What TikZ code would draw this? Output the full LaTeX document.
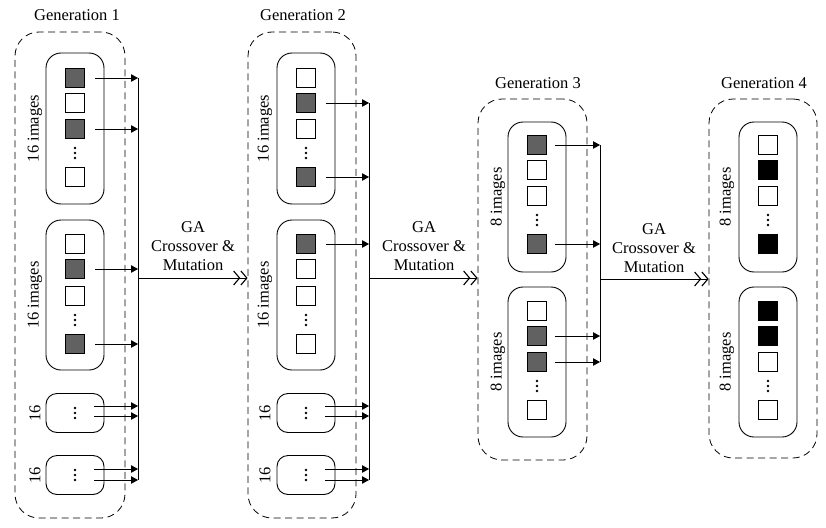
\documentclass[tikz,border=0pt]{standalone}
\usepackage{fontspec}
\setmainfont{Liberation Serif}
\usetikzlibrary{arrows.meta}
\definecolor{sqgray}{gray}{0.38}
\tikzset{
  gen/.style={draw,dash pattern=on 7pt off 4.5pt,rounded corners=24pt,line width=0.8pt,inner sep=0},
  grp/.style={draw,rounded corners=15pt,line width=0.9pt,minimum width=58pt,inner sep=0},
  smallgrp/.style={draw,rounded corners=11pt,line width=0.9pt,minimum width=58pt,minimum height=39pt,inner sep=0},
  sqw/.style={draw,line width=0.8pt,minimum size=19pt,inner sep=0,fill=white},
  sqg/.style={sqw,fill=sqgray},
  sqb/.style={sqw,fill=black},
  lbl/.style={font=\fontsize{16.5}{19}\selectfont},
  rlbl/.style={lbl,rotate=90},
  vd/.style={minimum width=4pt,minimum height=15pt,inner sep=0,
    path picture={\foreach \d in {-5,0,5}
      \fill ([yshift=\d pt]path picture bounding box.center) circle[radius=1.35pt];}},
  arr/.style={-{Triangle[length=7pt,width=7.5pt]},line width=0.8pt},
  bus/.style={line width=0.9pt},
  mainarr/.style={-{Straight Barb[length=6pt,width=14pt,line width=1.1pt]Straight Barb[length=6pt,width=14pt,line width=1.1pt]},line width=0.9pt}
}
\begin{document}
\begin{tikzpicture}[x=1pt,y=-1pt]
\useasboundingbox (0,0) rectangle (826,527);

% ---------------- Generation 1 ----------------
\node[gen,minimum width=110pt,minimum height=486pt] (g1) at (70,275) {};
\node[lbl] (g1t) at (77,15) {Generation 1};
\node[grp,minimum height=151pt] (g1a) at (75,128.5) {};
\node[rlbl] (g1al) at (35,128.5) {16 images};
\foreach \n/\y/\s in {1/78/sqg,2/103/sqw,3/129/sqg,4/177/sqw}
  \node[\s] (g1a\n) at (75,\y) {};
\node[vd] (g1ad) at (75,153) {};
\node[grp,minimum height=150pt] (g1b) at (75,295) {};
\node[rlbl] (g1bl) at (35,295) {16 images};
\foreach \n/\y/\s in {1/244/sqw,2/269/sqg,3/296/sqw,4/344/sqg}
  \node[\s] (g1b\n) at (75,\y) {};
\node[vd] (g1bd) at (75,320) {};
\node[smallgrp] (g1c) at (75,413) {};
\node[vd] (g1cd) at (75,413) {};
\node[rlbl] (g1cl) at (35,413) {16};
\node[smallgrp] (g1d) at (75,475) {};
\node[vd] (g1dd) at (75,475) {};
\node[rlbl] (g1dl) at (35,475) {16};

\coordinate (b1) at (138,278);
\coordinate (b1top) at (138,78);
\coordinate (b1bot) at (138,480);
\draw[bus] (b1top) -- (b1bot);
\foreach \s in {g1a1,g1a3,g1b2,g1b4}
  \draw[arr] ([xshift=10pt]\s.east) -- (\s -| b1);
\coordinate (g1c1) at ([xshift=-10pt,yshift=7pt]g1c.east);
\coordinate (g1c2) at ([xshift=-10pt,yshift=-3pt]g1c.east);
\coordinate (g1d1) at ([xshift=-10pt,yshift=6pt]g1d.east);
\coordinate (g1d2) at ([xshift=-10pt,yshift=-5pt]g1d.east);
\foreach \s in {g1c1,g1c2,g1d1,g1d2}
  \draw[arr] (\s) -- (\s -| b1);

% ---------------- Generation 2 ----------------
\node[gen,minimum width=108pt,minimum height=486pt] (g2) at (302,275) {};
\node[lbl] (g2t) at (303,15) {Generation 2};
\node[grp,minimum height=151pt] (g2a) at (306,128.5) {};
\node[rlbl] (g2al) at (265,128.5) {16 images};
\foreach \n/\y/\s in {1/78/sqw,2/103/sqg,3/129/sqw,4/177/sqg}
  \node[\s] (g2a\n) at (306,\y) {};
\node[vd] (g2ad) at (306,153) {};
\node[grp,minimum height=150pt] (g2b) at (306,295) {};
\node[rlbl] (g2bl) at (265,295) {16 images};
\foreach \n/\y/\s in {1/244/sqg,2/269/sqw,3/296/sqw,4/344/sqw}
  \node[\s] (g2b\n) at (306,\y) {};
\node[vd] (g2bd) at (306,320) {};
\node[smallgrp] (g2c) at (306,413) {};
\node[vd] (g2cd) at (306,413) {};
\node[rlbl] (g2cl) at (265,413) {16};
\node[smallgrp] (g2d) at (306,475) {};
\node[vd] (g2dd) at (306,475) {};
\node[rlbl] (g2dl) at (265,475) {16};

\coordinate (b2) at (369,278);
\coordinate (b2top) at (369,103);
\coordinate (b2bot) at (369,480);
\draw[bus] (b2top) -- (b2bot);
\foreach \s in {g2a2,g2a4,g2b1}
  \draw[arr] ([xshift=10pt]\s.east) -- (\s -| b2);
\coordinate (g2c1) at ([xshift=-10pt,yshift=7pt]g2c.east);
\coordinate (g2c2) at ([xshift=-10pt,yshift=-3pt]g2c.east);
\coordinate (g2d1) at ([xshift=-10pt,yshift=6pt]g2d.east);
\coordinate (g2d2) at ([xshift=-10pt,yshift=-5pt]g2d.east);
\foreach \s in {g2c1,g2c2,g2d1,g2d2}
  \draw[arr] (\s) -- (\s -| b2);

% ---------------- Generation 3 ----------------
\node[gen,minimum width=109pt,minimum height=361pt] (g3) at (532.5,279.5) {};
\node[lbl] (g3t) at (538,83) {Generation 3};
\node[grp,minimum height=150pt] (g3a) at (537,197) {};
\node[rlbl] (g3al) at (498,197) {8 images};
\foreach \n/\y/\s in {1/145/sqg,2/170/sqw,3/196/sqw,4/244/sqg}
  \node[\s] (g3a\n) at (537,\y) {};
\node[vd] (g3ad) at (537,220) {};
\node[grp,minimum height=150pt] (g3b) at (537,362) {};
\node[rlbl] (g3bl) at (498,362) {8 images};
\foreach \n/\y/\s in {1/311/sqw,2/336/sqg,3/362/sqg,4/410/sqw}
  \node[\s] (g3b\n) at (537,\y) {};
\node[vd] (g3bd) at (537,386) {};

\coordinate (b3) at (600,279);
\coordinate (b3top) at (600,145);
\coordinate (b3bot) at (600,362);
\draw[bus] (b3top) -- (b3bot);
\foreach \s in {g3a1,g3a4,g3b2,g3b3}
  \draw[arr] ([xshift=8pt]\s.east) -- (\s -| b3);

% ---------------- Generation 4 ----------------
\node[gen,minimum width=108pt,minimum height=359pt] (g4) at (763,278.5) {};
\node[lbl] (g4t) at (764,83) {Generation 4};
\node[grp,minimum height=150pt] (g4a) at (768,197) {};
\node[rlbl] (g4al) at (727,197) {8 images};
\foreach \n/\y/\s in {1/145/sqw,2/170/sqb,3/196/sqw,4/244/sqb}
  \node[\s] (g4a\n) at (768,\y) {};
\node[vd] (g4ad) at (768,220) {};
\node[grp,minimum height=150pt] (g4b) at (768,362) {};
\node[rlbl] (g4bl) at (727,362) {8 images};
\foreach \n/\y/\s in {1/311/sqb,2/336/sqb,3/362/sqw,4/410/sqw}
  \node[\s] (g4b\n) at (768,\y) {};
\node[vd] (g4bd) at (768,386) {};

% ---------------- GA transitions ----------------
\draw[mainarr] (b1) -- (b1 -| g2.west);
\draw[mainarr] (b2) -- (b2 -| g3.west);
\draw[mainarr] (b3) -- (b3 -| g4.west);
\node[lbl,align=center] (ga1) at (193,246) {GA\\Crossover \&\\Mutation};
\node[lbl,align=center] (ga2) at (424,246) {GA\\Crossover \&\\Mutation};
\node[lbl,align=center] (ga3) at (654,248) {GA\\Crossover \&\\Mutation};
\end{tikzpicture}
\end{document}
